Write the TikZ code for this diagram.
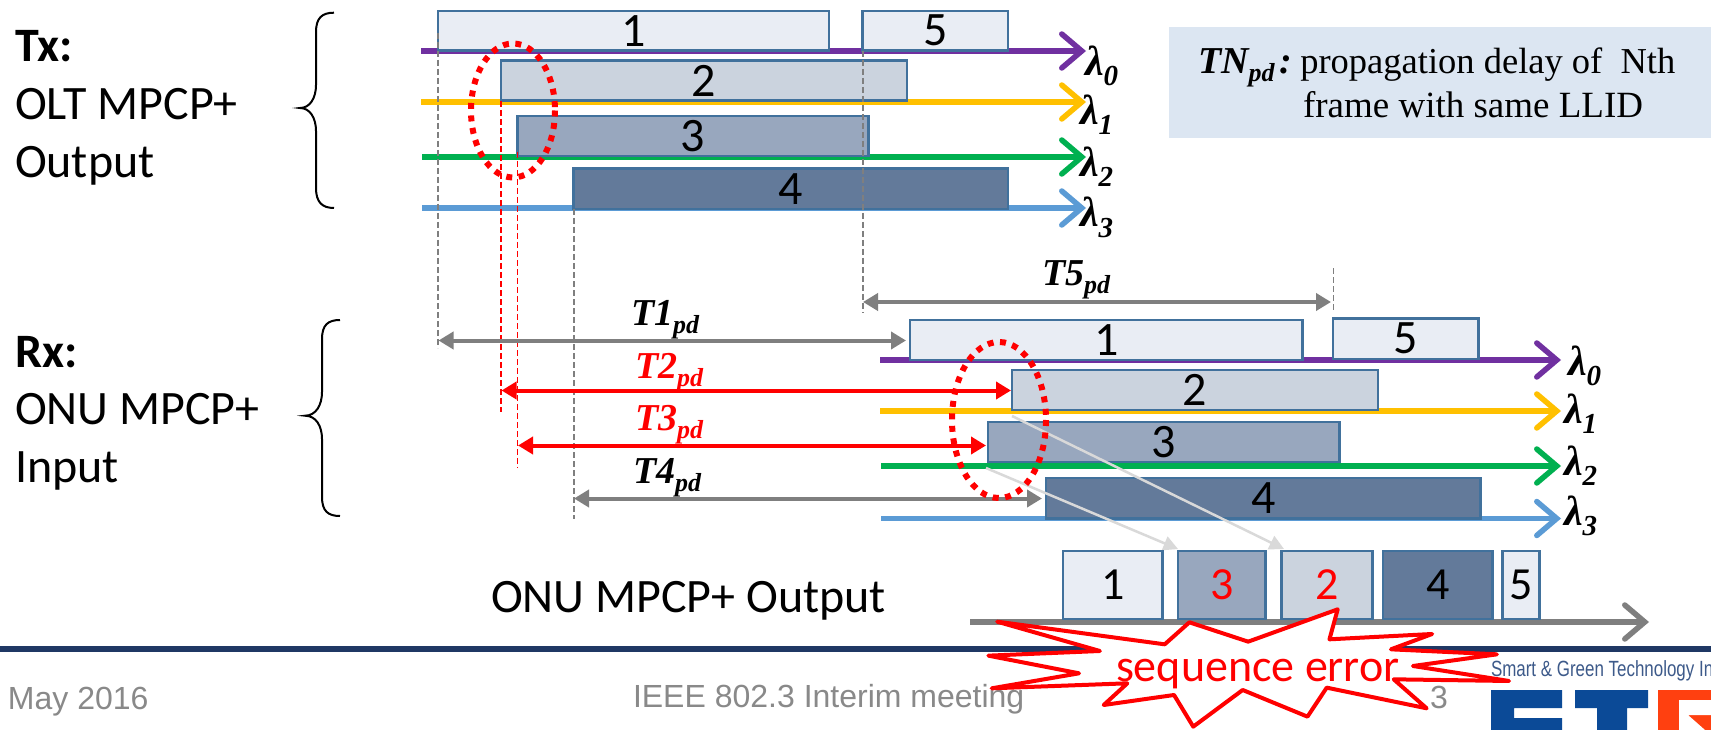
\documentclass[tikz,border=0pt]{standalone}
\usepackage{fontspec}
\usetikzlibrary{arrows.meta}
\setmainfont{Carlito}
\newfontfamily\serifbi[BoldFont={Liberation Serif Bold}]{Liberation Serif}
\newfontfamily\footfont{Liberation Sans}
\newfontfamily\logofont[FakeStretch=0.77]{Liberation Sans}
\definecolor{boxA}{HTML}{E9EDF4}
\definecolor{boxB}{HTML}{CBD3DE}
\definecolor{boxC}{HTML}{98A7BE}
\definecolor{boxD}{HTML}{637A9A}
\definecolor{boxline}{HTML}{41719C}
\definecolor{purpleL}{HTML}{7030A0}
\definecolor{yellowL}{HTML}{FFC000}
\definecolor{greenL}{HTML}{00B050}
\definecolor{blueL}{HTML}{5B9BD5}
\definecolor{grayL}{HTML}{7F7F7F}
\definecolor{lightL}{HTML}{D9D9D9}
\definecolor{navyL}{HTML}{1F3864}
\definecolor{footL}{HTML}{898989}
\definecolor{infoL}{HTML}{DCE6F2}
\definecolor{logoB}{HTML}{0B4A97}
\definecolor{logoO}{HTML}{FF4010}
\definecolor{logoT}{HTML}{3D5A8A}
\newcommand\fsz[1]{\fontsize{#1}{#1}\selectfont}
\newcommand\subpd[1]{\raisebox{-8pt}{\fsz{26}#1}}
\newcommand\frameboxnode[7]{%
  \pgfmathsetmacro\bw{#4-#2}\pgfmathsetmacro\bh{#5-#3}%
  \node[framebox,fill=#6,minimum width=\bw pt,minimum height=\bh pt,anchor=north west] (#1) at (#2,#3) {#7};}
\tikzset{
  x=1pt,y=-1pt,
  framebox/.style={draw=boxline,line width=2.4pt,inner sep=0pt,outer sep=0pt,text=black},
  wave/.style={line width=5.5pt,-{Straight Barb[length=20pt,width=34pt,line cap=round,line width=5.5pt]}},
  dim/.style={line width=4pt,{Triangle[length=15pt,width=17pt]}-{Triangle[length=15pt,width=17pt]}},
  guide/.style={line width=1.5pt,dash pattern=on 6pt off 3pt},
  moved/.style={lightL,line width=2.5pt,-{Triangle[length=14.5pt,width=14.5pt]}},
  ring/.style={draw=red,line width=6pt,dash pattern=on 6pt off 6.5pt},
  brace/.style={line width=2pt,black},
  lab/.style={anchor=base west,inner sep=0pt,outer sep=0pt},
  tlab/.style={lab,font=\serifbi\bfseries\itshape\fsz{38}},
  wlab/.style={lab,font=\serifbi\bfseries\itshape\fsz{42}},
  side/.style={lab,font=\fsz{48}},
  foot/.style={lab,footL,font=\footfont\fsz{32}},
}
\begin{document}
\begin{tikzpicture}
\clip (0,0) rectangle (1711,730);
\fill[white] (0,0) rectangle (1711,730);
% side labels
\node[side,font=\bfseries\fsz{48}] (txa) at (15,62) {Tx:};
\node[side] (txb) at (15,120) {OLT MPCP+};
\node[side] (txc) at (15,178) {Output};
\node[side,font=\bfseries\fsz{48}] (rxa) at (15,367) {Rx:};
\node[side] (rxb) at (15,424) {ONU MPCP+};
\node[side] (rxc) at (15,482) {Input};
\draw[brace] (334,12.7) .. controls (322,12.7) and (316,18) .. (316,32) -- (316,85)
  .. controls (316,98) and (310,108) .. (300,108) .. controls (310,108) and (316,118) .. (316,131)
  -- (316,188) .. controls (316,202) and (322,208) .. (334,208);
\draw[brace] (340,320) .. controls (328,320) and (322,325) .. (322,339) -- (322,392)
  .. controls (322,405) and (316,415.7) .. (305,415.7) .. controls (316,415.7) and (322,426) .. (322,439)
  -- (322,497) .. controls (322,511) and (328,516) .. (340,516);
% info box
\fill[infoL] (1169,27) rectangle (1711,138);
\node[lab,font=\serifbi\fsz{36.5}] (infoa) at (1198,74) {{\bfseries\itshape\fsz{38}TN\raisebox{-8pt}{\fsz{26}pd}\hspace{5pt}:}\hspace{8pt}propagation delay of~~Nth};
\node[lab,font=\serifbi\fsz{37}] (infob) at (1303,118) {frame with same LLID};
% Tx wavelength lines
\coordinate (ta0) at (421,51); \coordinate (tb0) at (1086,51);
\coordinate (ta1) at (421,102); \coordinate (tb1) at (1086,102);
\coordinate (ta2) at (422,157); \coordinate (tb2) at (1086,157);
\coordinate (ta3) at (422,208); \coordinate (tb3) at (1086,208);
\draw[wave,purpleL] (ta0) -- (tb0);
\draw[wave,yellowL] (ta1) -- (tb1);
\draw[wave,greenL] (ta2) -- (tb2);
\draw[wave,blueL] (ta3) -- (tb3);
\frameboxnode{t1}{438}{11}{829}{50.5}{boxA}{\fsz{48}1}
\frameboxnode{t5}{862.5}{11}{1008}{50.5}{boxA}{\fsz{48}5}
\frameboxnode{t2}{501}{60.5}{907}{100.5}{boxB}{\fsz{48}2}
\frameboxnode{t3}{517.5}{116}{868.5}{156}{boxC}{\fsz{48}3}
\frameboxnode{t4}{573.5}{168.5}{1008}{209}{boxD}{\fsz{48}4}
% Rx wavelength lines
\coordinate (ra0) at (880,360); \coordinate (rb0) at (1561,360);
\coordinate (ra1) at (880,411); \coordinate (rb1) at (1561,411);
\coordinate (ra2) at (881,466); \coordinate (rb2) at (1561,466);
\coordinate (ra3) at (881,518.5); \coordinate (rb3) at (1561,518.5);
\draw[wave,purpleL] (ra0) -- (rb0);
\draw[wave,yellowL] (ra1) -- (rb1);
\draw[wave,greenL] (ra2) -- (rb2);
\draw[wave,blueL] (ra3) -- (rb3);
\frameboxnode{r1}{910}{320}{1302.5}{360}{boxA}{\fsz{48}1}
\frameboxnode{r5}{1333}{318.5}{1478.5}{359}{boxA}{\fsz{48}5}
\frameboxnode{r2}{1012}{370}{1378}{410}{boxB}{\fsz{48}2}
\frameboxnode{r3}{988}{422}{1339.5}{462}{boxC}{\fsz{48}3}
\frameboxnode{r4}{1046}{478}{1480.5}{518.5}{boxD}{\fsz{48}4}
% wavelength labels
\foreach \nm/\px/\py/\ix in {la0/1085/76/0,la1/1080/125/1,la2/1080/177/2,la3/1080/227/3,lb0/1568/375/0,lb1/1564/423/1,lb2/1564/475/2,lb3/1564/525/3}
  \node[wlab] (\nm) at (\px,\py) {λ\raisebox{-10pt}{\fsz{29}\ix}};
% guides
\coordinate (g1a) at (438,33); \coordinate (g1b) at (438,348);
\coordinate (g5a) at (863,51); \coordinate (g5b) at (863,313);
\coordinate (g2a) at (501,101); \coordinate (g2b) at (501,412);
\coordinate (g3a) at (517.5,152); \coordinate (g3b) at (517.5,468);
\coordinate (g4a) at (574,209); \coordinate (g4b) at (574,519);
\coordinate (g6a) at (1333.5,268); \coordinate (g6b) at (1333.5,311);
\draw[guide,grayL] (g1a) -- (g1b);
\draw[guide,grayL] (g5a) -- (g5b);
\draw[guide,red] (g2a) -- (g2b);
\draw[guide,red] (g3a) -- (g3b);
\draw[guide,grayL] (g4a) -- (g4b);
\draw[guide,grayL] (g6a) -- (g6b);
% moved-frame arrows
\coordinate (m2a) at (1012,416); \coordinate (m2b) at (1284,549);
\coordinate (m3a) at (986,468); \coordinate (m3b) at (1178,549);
\draw[moved] (m2a) -- (m2b);
\draw[moved] (m3a) -- (m3b);
% delay arrows
\coordinate (d5a) at (863,302); \coordinate (d5b) at (1331,302);
\coordinate (d1a) at (438.5,340.5); \coordinate (d1b) at (906,340.5);
\coordinate (d2a) at (501.5,390.5); \coordinate (d2b) at (1011,390.5);
\coordinate (d3a) at (518,445.5); \coordinate (d3b) at (986,445.5);
\coordinate (d4a) at (574,498.5); \coordinate (d4b) at (1042,498.5);
\draw[dim,grayL] (d5a) -- (d5b);
\draw[dim,grayL] (d1a) -- (d1b);
\draw[dim,red] (d2a) -- (d2b);
\draw[dim,red] (d3a) -- (d3b);
\draw[dim,grayL] (d4a) -- (d4b);
\node[tlab] (n5) at (1042,285) {T5\subpd{pd}};
\node[tlab] (n1) at (631,325) {T1\subpd{pd}};
\node[tlab,text=red] (n2) at (635,378) {T2\subpd{pd}};
\node[tlab,text=red] (n3) at (635,430) {T3\subpd{pd}};
\node[tlab] (n4) at (633,483) {T4\subpd{pd}};
% rings
\draw[ring] (513,110.5) ellipse [x radius=42,y radius=67];
\draw[ring] (999,420) ellipse [x radius=47,y radius=78];
% output
\node[lab,font=\fsz{48}] (outl) at (491,612.5) {ONU MPCP+ Output};
\coordinate (oa) at (970,622); \coordinate (ob) at (1649,622);
\draw[wave,grayL] (oa) -- (ob);
\frameboxnode{o1}{1063}{551}{1162.5}{619}{boxA}{\fsz{46}1}
\frameboxnode{o3}{1178}{551}{1265.5}{619}{boxC}{\fsz{46}\color{red}3}
\frameboxnode{o2}{1281.5}{551}{1372.5}{619}{boxB}{\fsz{46}\color{red}2}
\frameboxnode{o4}{1383}{551}{1492.5}{619}{boxD}{\fsz{46}4}
\frameboxnode{o5}{1502.5}{551}{1539.5}{619}{boxA}{\fsz{46}5}
% footer
\fill[navyL] (0,646) rectangle (1711,652);
\node[foot] (fa) at (8,709) {May 2016};
\node[foot] (fb) at (633,707) {IEEE 802.3 Interim meeting};
\node[foot] (fc) at (1430,708) {3};
\node[lab,logoT,font=\logofont\fsz{22}] (fd) at (1491,676) {Smart \& Green Technology In};
\fill[logoB] (1491,690) -- (1562,690) -- (1562,708) -- (1514,708) -- (1514,718) -- (1562,718) -- (1562,730) -- (1491,730) -- cycle;
\fill[logoB] (1575,690) -- (1648,690) -- (1648,708) -- (1627,708) -- (1627,730) -- (1597,730) -- (1597,708) -- (1575,708) -- cycle;
\fill[logoO] (1658,690) rectangle (1711,730);
\fill[white] (1679,700) -- (1711,700) -- (1711,715) -- (1688,715) -- (1705,730) -- (1679,730) -- cycle;
% burst
\begin{scope}[shift={(850,520)},x=0.5492pt,y=-0.3333pt]
\draw[red,fill=white,line width=4pt,line join=round]
 (268,305)--(573,373)--(618,307)--(725,365)--(888,268)--(873,358)--(1060,342)--(985,388)--(1178,403)--(1025,438)--(1200,483)--(990,478)--(1050,565)--(868,503)--(833,590)--(715,510)--(625,620)--(590,525)--(462,555)--(505,490)--(258,505)--(417,460)--(252,407)--(455,393)--cycle;
\end{scope}
\node[lab,red,font=\fsz{46}] (err) at (1116,681) {sequence error};
\end{tikzpicture}
\end{document}
